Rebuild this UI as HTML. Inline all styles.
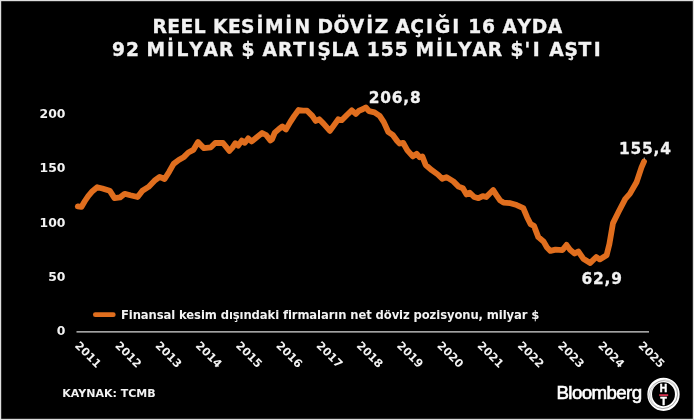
<!DOCTYPE html>
<html lang="tr">
<head>
<meta charset="utf-8">
<title>Reel kesimin döviz açığı</title>
<style>
html,body{margin:0;padding:0;background:#000;}
body{width:694px;height:420px;overflow:hidden;position:relative;}
svg{position:absolute;left:0;top:0;display:block;will-change:transform;}
text{font-family:"DejaVu Sans","Liberation Sans",sans-serif;font-weight:bold;fill:#f2f2f2;}
.ttl{font-size:18.67px;stroke:#f2f2f2;stroke-width:0.35px;}
.yl{font-size:12.4px;letter-spacing:0.1px;text-anchor:end;}
.xl{font-size:11.2px;letter-spacing:0.1px;}
.dl{font-size:15.4px;letter-spacing:0.85px;stroke:#f2f2f2;stroke-width:0.3px;}
.lg{font-size:11.6px;letter-spacing:-0.1px;}
.src{font-size:11px;}
.bb{font-family:"Liberation Sans",sans-serif;font-weight:normal;font-size:18.7px;letter-spacing:-0.6px;fill:#fff;stroke:#fff;stroke-width:0.6px;}
.ht{font-family:"Liberation Sans",sans-serif;font-weight:bold;font-size:10.2px;text-anchor:middle;fill:#fff;stroke:#fff;stroke-width:0.5px;}
</style>
</head>
<body>
<svg width="694" height="420" viewBox="0 0 694 420">
<rect x="0" y="0" width="694" height="420" fill="#000"/>
<rect x="0.6" y="0.6" width="692.8" height="418.8" fill="none" stroke="#dedede" stroke-width="1.2"/>
<text class="ttl" x="152.41 167.37 180.59 193.81 206.12 212.99 227.89 241.02 256.47 265.07 285.30 294.43 310.57 317.48 333.44 349.69 366.14 374.87 388.51 395.45 410.29 426.00 434.94 452.27 461.25 468.31 482.05 495.60 502.53 517.59 531.70 547.68" y="32.9">REEL KESİMİN DÖVİZ AÇIĞI 16 AYDA</text>
<text class="ttl" x="111.94 125.98 139.81 146.57 167.10 176.42 189.20 203.62 218.96 234.15 241.49 255.33 262.55 277.89 293.14 308.26 317.49 331.60 344.27 359.45 366.79 380.82 394.86 408.69 415.46 435.98 445.31 458.08 472.50 487.84 503.03 510.38 524.51 532.85 542.12 549.35 564.48 578.59 593.71" y="55.5">92 MİLYAR $ ARTIŞLA 155 MİLYAR $'I AŞTI</text>
<text class="yl" x="65.6" y="117.8">200</text>
<text class="yl" x="65.6" y="172.4">150</text>
<text class="yl" x="65.6" y="226.7">100</text>
<text class="yl" x="65.6" y="281.1">50</text>
<text class="yl" x="65.6" y="335.4">0</text>
<line x1="76.5" y1="331.8" x2="649" y2="331.8" stroke="#d9d9d9" stroke-width="1.2"/>
<polyline transform="translate(-0.2,0.6)" points="78.0,205.8 81.6,206.3 85.1,200.4 88.4,195.5 92.6,190.6 97.4,186.6 102.6,187.9 109.9,190.1 114.7,197.5 120.3,196.8 124.9,193.2 130.5,194.7 137.8,196.4 142.6,190.1 148.7,186.3 154.7,180.1 159.9,176.3 164.8,178.4 169.4,171.1 173.8,163.3 178.9,159.4 184.2,156.3 188.6,151.9 193.5,149.3 198.2,141.5 204.2,147.6 211.1,146.7 215.4,142.4 223.2,142.4 229.6,150.3 232.6,147.0 235.6,142.6 238.4,145.0 242.0,140.0 245.0,142.2 248.4,137.8 252.0,140.8 257.0,136.6 262.3,132.4 266.3,134.4 270.6,139.9 272.3,138.6 275.0,132.0 279.6,128.0 282.6,125.9 286.2,128.8 290.4,121.5 294.3,115.5 298.8,109.4 303.0,110.1 307.3,110.1 312.5,115.3 315.9,120.4 319.4,118.7 323.7,123.0 330.1,130.3 334.1,124.8 338.4,118.7 341.9,119.6 347.1,114.4 352.0,109.8 356.0,113.3 359.2,110.1 362.8,108.7 366.0,106.8 369.2,110.6 374.7,111.8 379.9,115.3 384.0,121.5 388.4,131.2 393.2,134.6 397.4,140.4 399.8,142.9 403.3,142.2 407.6,149.8 413.0,155.8 416.8,153.2 419.9,156.6 422.5,155.8 425.9,164.4 432.0,169.6 438.0,173.9 442.4,178.2 446.7,176.5 453.6,180.8 458.8,186.0 463.1,187.7 466.6,193.8 470.0,192.1 474.4,196.4 478.7,197.6 483.0,195.5 486.5,196.4 489.9,192.9 493.4,189.5 496.8,194.7 500.3,199.8 503.8,202.1 510.7,202.6 516.9,204.5 523.5,207.5 527.3,216.6 530.8,223.5 534.2,225.3 538.5,236.5 543.7,240.8 547.2,246.9 550.6,250.3 555.8,249.0 562.7,249.5 566.7,244.3 570.5,249.5 574.8,252.9 578.5,250.8 583.5,258.1 590.4,262.3 596.5,256.4 599.9,258.8 606.8,254.7 609.6,243.4 613.2,222.5 618.8,211.2 625.5,198.3 630.0,193.3 636.7,181.7 641.7,166.7 644.2,161.0" fill="none" stroke="#e06e1e" stroke-width="5.8" stroke-linejoin="round" stroke-linecap="round"/>
<line x1="644.3" y1="157.5" x2="644.3" y2="159.5" stroke="#cfcfcf" stroke-width="0.8"/>
<text class="dl" x="368.7" y="102.8">206,8</text>
<text class="dl" x="618.9" y="153.5">155,4</text>
<text class="dl" x="581.4" y="283.8">62,9</text>
<line x1="95.3" y1="314.7" x2="113.3" y2="314.7" stroke="#e06e1e" stroke-width="4.7" stroke-linecap="round"/>
<text class="lg" x="121.0" y="318.5">Finansal kesim dışındaki firmaların net döviz pozisyonu, milyar $</text>
<text class="xl" transform="translate(74.30,346.2) rotate(45)">2011</text>
<text class="xl" transform="translate(114.55,346.2) rotate(45)">2012</text>
<text class="xl" transform="translate(154.80,346.2) rotate(45)">2013</text>
<text class="xl" transform="translate(195.05,346.2) rotate(45)">2014</text>
<text class="xl" transform="translate(235.30,346.2) rotate(45)">2015</text>
<text class="xl" transform="translate(275.55,346.2) rotate(45)">2016</text>
<text class="xl" transform="translate(315.80,346.2) rotate(45)">2017</text>
<text class="xl" transform="translate(356.05,346.2) rotate(45)">2018</text>
<text class="xl" transform="translate(396.30,346.2) rotate(45)">2019</text>
<text class="xl" transform="translate(436.55,346.2) rotate(45)">2020</text>
<text class="xl" transform="translate(476.80,346.2) rotate(45)">2021</text>
<text class="xl" transform="translate(517.05,346.2) rotate(45)">2022</text>
<text class="xl" transform="translate(557.30,346.2) rotate(45)">2023</text>
<text class="xl" transform="translate(597.55,346.2) rotate(45)">2024</text>
<text class="xl" transform="translate(637.80,346.2) rotate(45)">2025</text>
<text class="src" x="62.3" y="396.7">KAYNAK: TCMB</text>
<text class="bb" x="556.5" y="398.9">Bloomberg</text>
<g>
<ellipse cx="663.5" cy="394.3" rx="13.8" ry="14.3" fill="none" stroke="#fff" stroke-width="4.7"/>
<ellipse cx="663.1" cy="394.5" rx="14.5" ry="13.9" fill="none" stroke="#000" stroke-opacity="0.55" stroke-width="0.4" transform="rotate(-20 663.5 394.2)"/>
<ellipse cx="664.0" cy="394.0" rx="13.3" ry="14.6" fill="none" stroke="#000" stroke-opacity="0.45" stroke-width="0.35" transform="rotate(25 663.5 394.2)"/>
<text class="ht" x="663.5" y="391.7">H</text>
<rect x="659.2" y="394.2" width="9.0" height="1.9" fill="#d3304c"/>
<text class="ht" x="663.5" y="405.3">T</text>
</g>
</svg>
</body>
</html>
